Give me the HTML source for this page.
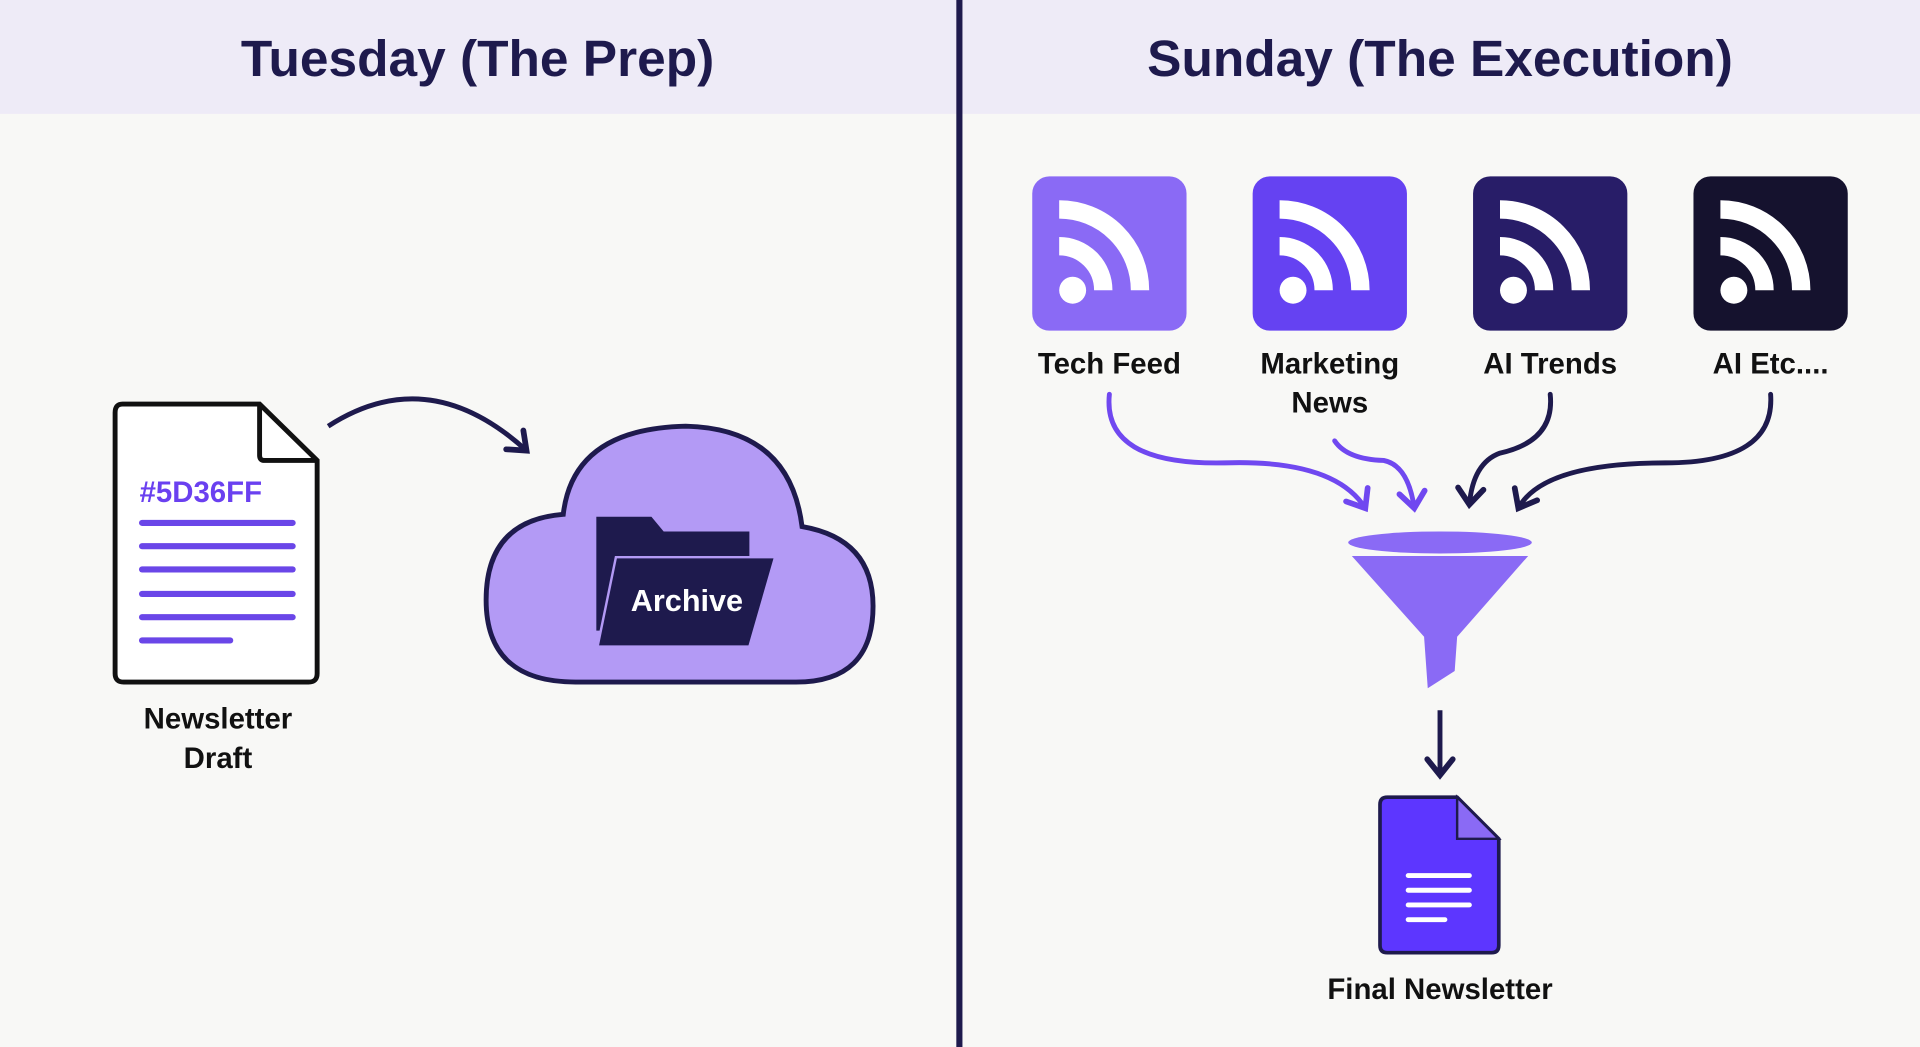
<!DOCTYPE html>
<html><head><meta charset="utf-8"><style>
html,body{margin:0;padding:0;width:1920px;height:1047px;overflow:hidden;background:#f8f8f6}
svg{display:block}
text{font-family:"Liberation Sans",sans-serif;font-weight:bold}
</style></head><body>
<svg width="1920" height="1047" viewBox="0 0 1568 855" preserveAspectRatio="none">
<defs>
<marker id="ap" viewBox="0 0 10 10" refX="6" refY="5" markerWidth="6.5" markerHeight="6.5" orient="auto"><path d="M1,1 L6,5 L1,9" fill="none" stroke="#7048f0" stroke-width="1.8" stroke-linecap="round"/></marker>
<marker id="ad" viewBox="0 0 10 10" refX="6" refY="5" markerWidth="6.5" markerHeight="6.5" orient="auto"><path d="M1,1 L6,5 L1,9" fill="none" stroke="#1e1a4d" stroke-width="1.8" stroke-linecap="round"/></marker>
<g id="rss"><circle cx="-30" cy="30" r="11" fill="#fff"/><path d="M-41,-6 A36,36 0 0 1 -5,30" fill="none" stroke="#fff" stroke-width="15"/><path d="M-41,-36 A66,66 0 0 1 25,30" fill="none" stroke="#fff" stroke-width="15"/></g>
</defs>
<rect x="0" y="0" width="1568" height="93" fill="#eeebf7"/>
<rect x="781" y="0" width="5" height="855" fill="#1e1a4d"/>
<text x="390" y="62" font-size="42" fill="#1e1a4d" text-anchor="middle">Tuesday (The Prep)</text>
<text x="1176" y="62" font-size="42" fill="#1e1a4d" text-anchor="middle">Sunday (The Execution)</text>
<path d="M100,330 H212 L259,376 V550 Q259,557 252,557 H101 Q94,557 94,550 V337 Q94,330 100,330 Z" fill="#fff" stroke="#111" stroke-width="4"/>
<path d="M212,330 V372 Q212,376 216,376 H259" fill="none" stroke="#111" stroke-width="4"/>
<text x="114" y="410" font-size="24" fill="#6a40f0">#5D36FF</text>
<g stroke="#6a46e8" stroke-width="5" stroke-linecap="round">
<line x1="116" y1="427" x2="239" y2="427"/><line x1="116" y1="446" x2="239" y2="446"/><line x1="116" y1="465" x2="239" y2="465"/><line x1="116" y1="485" x2="239" y2="485"/><line x1="116" y1="504" x2="239" y2="504"/><line x1="116" y1="523" x2="188" y2="523"/></g>
<text x="178" y="595" font-size="24" fill="#111" text-anchor="middle">Newsletter</text>
<text x="178" y="627" font-size="24" fill="#111" text-anchor="middle">Draft</text>
<path d="M268,348 Q350,295 430,368" fill="none" stroke="#1e1a4d" stroke-width="4" marker-end="url(#ad)"/>
<path d="M470,557 Q397,557 397,490 Q397,425 460,420 Q468,350 560,348 Q645,350 655,430 Q713,440 713,495 Q713,557 650,557 Z" fill="#b39af5" stroke="#1e1a4d" stroke-width="4"/>
<path d="M487,422 H532 L542,434 H612 V515 H487 Z" fill="#1e1a4d"/>
<path d="M503,455 H633 L612,528 H488 Z" fill="#1e1a4d" stroke="#b39af5" stroke-width="2"/>
<text x="561" y="499" font-size="25" fill="#fff" text-anchor="middle">Archive</text>
<rect x="843" y="144" width="126" height="126" rx="14" fill="#8a6af5"/>
<rect x="1023" y="144" width="126" height="126" rx="14" fill="#6542f2"/>
<rect x="1203" y="144" width="126" height="126" rx="14" fill="#281d68"/>
<rect x="1383" y="144" width="126" height="126" rx="14" fill="#15122e"/>
<use href="#rss" x="906" y="207"/><use href="#rss" x="1086" y="207"/><use href="#rss" x="1266" y="207"/><use href="#rss" x="1446" y="207"/>
<g font-size="24" fill="#111" text-anchor="middle">
<text x="906" y="305">Tech Feed</text>
<text x="1086" y="305">Marketing</text><text x="1086" y="337">News</text>
<text x="1266" y="305">AI Trends</text>
<text x="1446" y="305">AI Etc....</text></g>
<g fill="none" stroke-width="4" stroke-linecap="round">
<path d="M906,322 Q900,380 1000,378 Q1090,375 1115,415" stroke="#7048f0" marker-end="url(#ap)"/>
<path d="M1090,360 Q1100,375 1130,376 Q1150,380 1155,415" stroke="#7048f0" marker-end="url(#ap)"/>
<path d="M1266,322 Q1270,360 1225,370 Q1203,378 1200,412" stroke="#1e1a4d" marker-end="url(#ad)"/>
<path d="M1446,322 Q1450,378 1360,378 Q1260,378 1240,415" stroke="#1e1a4d" marker-end="url(#ad)"/>
</g>
<ellipse cx="1176" cy="443" rx="75" ry="9" fill="#8a6af5"/>
<path d="M1104,454 H1248 L1190,520 L1188,548 L1166,562 L1163,520 Z" fill="#8a6af5"/>
<line x1="1176" y1="580" x2="1176" y2="633" stroke="#1e1a4d" stroke-width="4" marker-end="url(#ad)"/>
<path d="M1133,651 H1190 L1224,685 V772 Q1224,778 1218,778 H1133 Q1127,778 1127,772 V657 Q1127,651 1133,651 Z" fill="#5d36ff" stroke="#1e1a4d" stroke-width="3"/>
<path d="M1190,651 V685 H1224 Z" fill="#8a6af5" stroke="#1e1a4d" stroke-width="2"/>
<g stroke="#fff" stroke-width="4" stroke-linecap="round"><line x1="1150" y1="715" x2="1200" y2="715"/><line x1="1150" y1="727" x2="1200" y2="727"/><line x1="1150" y1="739" x2="1200" y2="739"/><line x1="1150" y1="751" x2="1180" y2="751"/></g>
<text x="1176" y="816" font-size="24" fill="#111" text-anchor="middle">Final Newsletter</text>
</svg>
</body></html>
